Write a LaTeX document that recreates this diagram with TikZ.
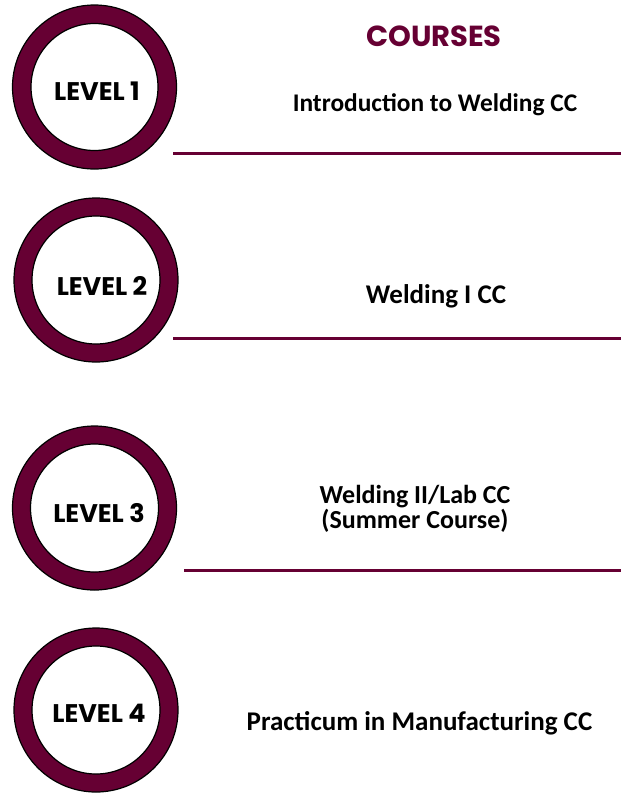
\documentclass[tikz,border=0pt]{standalone}
\usepackage{fontspec}
\setmainfont{Carlito}
\newfontfamily\pop{Poppins}
\definecolor{maroon}{RGB}{102,0,51}
\begin{document}
\begin{tikzpicture}[x=1pt,y=-1pt,
  ring/.style={fill=maroon,draw=black,line width=1.2pt,even odd rule},
  lvl/.style={font=\pop\bfseries\fontsize{25.5}{28}\selectfont,text=black,inner sep=0pt},
  course/.style={font=\bfseries\fontsize{27}{26}\selectfont,text=black,inner sep=0pt,align=center},
  rule/.style={draw=maroon,line width=3pt}]
\useasboundingbox (0,0) rectangle (621,793);
% rings
\path[ring] (94.5,87) circle (82) (94.5,87) circle (63.5);
\path[ring] (96,280) circle (82) (96,280) circle (64);
\path[ring] (94.5,508) circle (82) (94.5,508) circle (64);
\path[ring] (96,710) circle (82) (96,710) circle (64);
% level labels
\node[lvl] (l1) at (97,91) {LEVEL 1};
\node[lvl] (l2) at (102,286) {LEVEL 2};
\node[lvl] (l3) at (99,513) {LEVEL 3};
\node[lvl] (l4) at (99,713) {LEVEL 4};
% header
\node[font=\pop\bfseries\fontsize{29}{32}\selectfont,text=maroon,inner sep=0pt] (hd) at (434,36) {COURSES};
% courses
\node[course,font=\bfseries\fontsize{25.4}{26}\selectfont] (c1) at (435,105) {Introduction to Welding CC};
\node[course] (c2) at (436,296) {Welding I CC};
\node[course,font=\bfseries\fontsize{26}{24.5}\selectfont] (c3) at (415,509) {Welding II/Lab CC\\(Summer Course)};
\node[course] (c4) at (419.5,723) {Practicum in Manufacturing CC};
% rules
\coordinate (a1) at (173,153); \coordinate (b1) at (621,153);
\coordinate (a2) at (173,338); \coordinate (b2) at (621,338);
\coordinate (a3) at (184,570); \coordinate (b3) at (621,570);
\draw[rule] (a1) -- (b1);
\draw[rule] (a2) -- (b2);
\draw[rule] (a3) -- (b3);
\end{tikzpicture}
\end{document}
